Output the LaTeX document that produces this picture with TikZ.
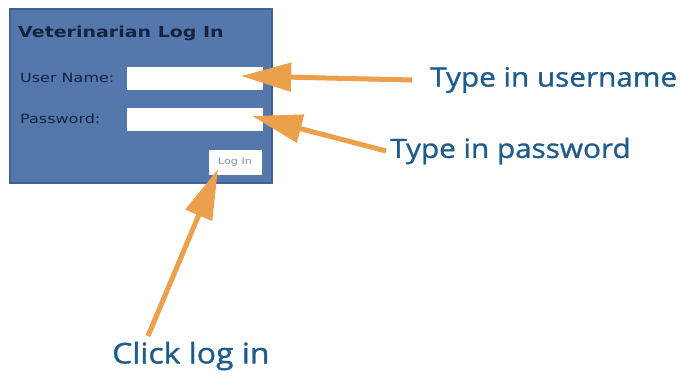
\documentclass[tikz,border=0pt]{standalone}
\usepackage{fontspec}
\setmainfont[FakeStretch=1.25]{DejaVu Sans}
\newfontfamily\notefont[FakeBold=1.2,FakeStretch=1.12]{Open Sans}
\usetikzlibrary{positioning,arrows.meta}

\definecolor{panelblue}{HTML}{5478AC}
\definecolor{paneledge}{HTML}{3E6497}
\definecolor{navytext}{HTML}{14233F}
\definecolor{notecolor}{HTML}{1F5C8C}
\definecolor{pointer}{HTML}{EBA04C}
\definecolor{btntext}{HTML}{7890B0}

\tikzset{
  field/.style={draw=white,fill=white,minimum width=135bp,minimum height=22bp,inner sep=0},
  formlabel/.style={anchor=west,text=navytext,font=\fontsize{12.8bp}{14bp}\selectfont,inner sep=0},
  note/.style={text=notecolor,font=\notefont\fontsize{26.5bp}{30bp}\selectfont,inner sep=0},
  pointarrow/.style={draw=pointer,line width=5bp,-{Triangle[length=50bp,width=28bp]}}
}

\begin{document}
\begin{tikzpicture}[x=1bp,y=-1bp]
  \useasboundingbox (0,0) rectangle (683,375);

  % login panel
  \node[draw=paneledge,line width=2bp,fill=panelblue,minimum width=261bp,minimum height=174bp,inner sep=0] (panel) at (141,96) {};
  \node[anchor=west,text=navytext,font=\bfseries\fontsize{15.2bp}{17bp}\selectfont,inner sep=0] (title) at (18,33) {Veterinarian Log In};
  \node[formlabel] (ulabel) at (20,78) {User Name:};
  \node[formlabel] (plabel) at (20,119) {Password:};
  \node[field] (user) at (194.5,78) {};
  \node[field] (pass) at (194.5,119) {};
  \node[draw=white,fill=white,minimum width=52bp,minimum height=24bp,inner sep=0,text=btntext,font=\fontsize{9bp}{10bp}\selectfont] (login) at (235,162) {Log In};

  % hints
  \node[note,anchor=west] (tuser) at (430,80) {Type in username};
  \node[note,anchor=west] (tpass) at (390,151) {Type in password};
  \node[note,anchor=west,font=\notefont\fontsize{28.5bp}{32bp}\selectfont] (tclick) at (112,356) {Click log in};
  \coordinate (cstart) at (148,336);

  \draw[pointarrow] ([xshift=-18bp]tuser.west) -- ([xshift=-21bp,yshift=2bp]user.east);
  \draw[pointarrow] ([xshift=-4bp]tpass.west) -- ([xshift=-10bp,yshift=3bp]pass.east);
  \draw[pointarrow] (cstart) -- ([xshift=-17bp,yshift=5bp]login.south);
\end{tikzpicture}
\end{document}
